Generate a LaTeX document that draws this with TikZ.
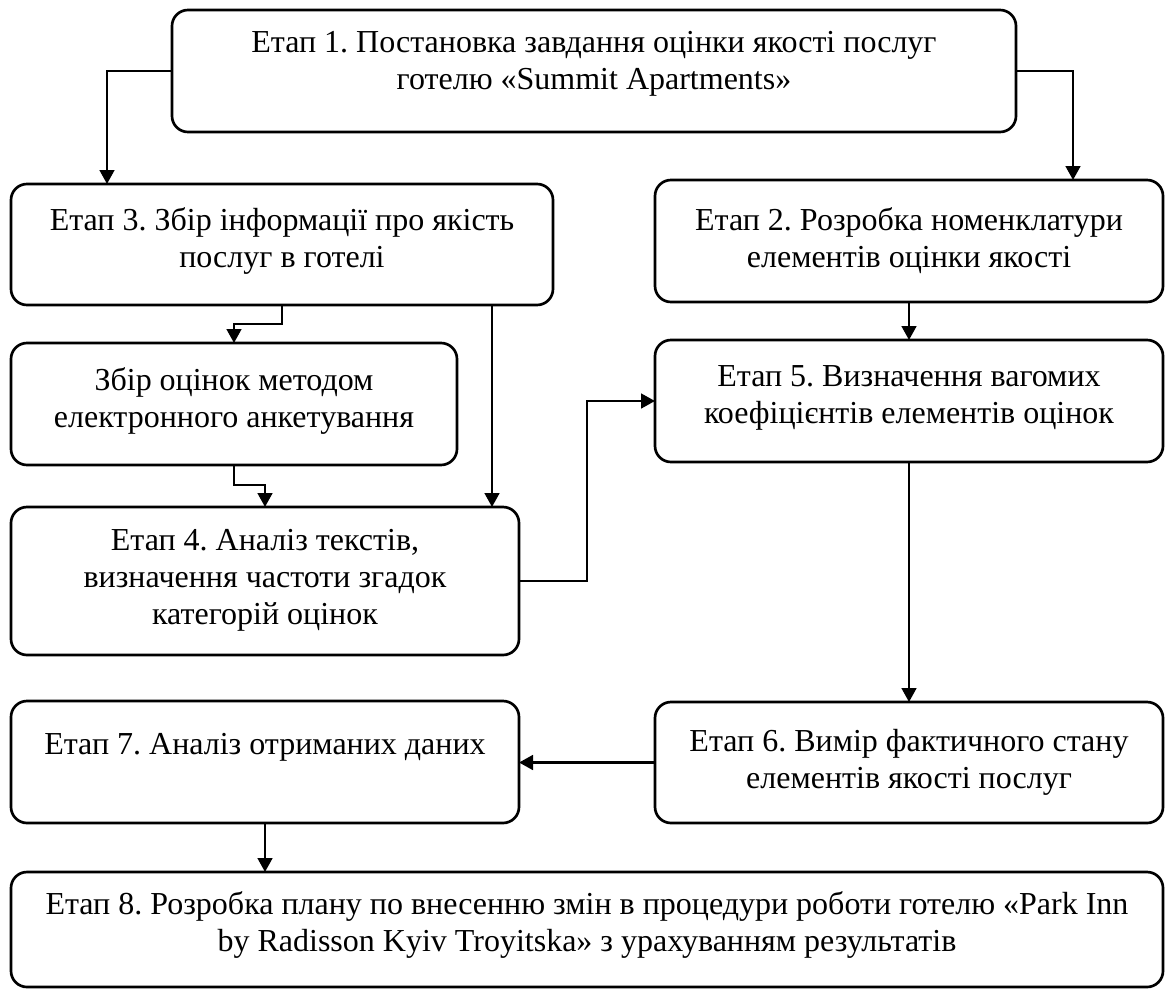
\documentclass[tikz,border=0pt]{standalone}
\usepackage{fontspec}
\setmainfont{Liberation Serif}
\usetikzlibrary{arrows.meta,calc}
\begin{document}
\frenchspacing
\begin{tikzpicture}[x=0.75pt,y=-0.75pt,
  box/.style={draw,line width=2pt,rounded corners=12pt,inner sep=0pt,outer sep=0pt},
  txt/.style={align=center,inner sep=0pt,font=\fontsize{24}{27.8}\selectfont},
  arr/.style={line width=2pt,-{Triangle[length=10.5pt,width=11pt]}}]
\useasboundingbox (0,0) rectangle (1166,989);
% boxes
\node[box,minimum width=844*0.75pt,minimum height=122*0.75pt] (b1) at (594,71) {};
\node[box,minimum width=542*0.75pt,minimum height=121*0.75pt] (b3) at (282,244.5) {};
\node[box,minimum width=508*0.75pt,minimum height=122*0.75pt] (b2) at (909,241) {};
\node[box,minimum width=446*0.75pt,minimum height=122*0.75pt] (bz) at (234,404) {};
\node[box,minimum width=508*0.75pt,minimum height=122*0.75pt] (b5) at (909,401) {};
\node[box,minimum width=508*0.75pt,minimum height=148*0.75pt] (b4) at (265,581) {};
\node[box,minimum width=508*0.75pt,minimum height=122*0.75pt] (b7) at (265,762) {};
\node[box,minimum width=508*0.75pt,minimum height=121*0.75pt] (b6) at (909,762.5) {};
\node[box,minimum width=1152*0.75pt,minimum height=115*0.75pt] (b8) at (587,929.5) {};
% texts
\node[txt] (t1) at (594,64) {Етап 1. Постановка завдання оцінки якості послуг\\готелю «Summit Apartments»};
\node[txt] (t3) at (282,241) {Етап 3. Збір інформації про якість\\послуг в готелі};
\node[txt] (t2) at (909,241) {Етап 2. Розробка номенклатури\\елементів оцінки якості};
\node[txt] (tz) at (234,401) {Збір оцінок методом\\електронного анкетування};
\node[txt] (t5) at (909,398) {Етап 5. Визначення вагомих\\коефіцієнтів елементів оцінок};
\node[txt] (t4) at (265,580) {Етап 4. Аналіз текстів,\\визначення частоти згадок\\категорій оцінок};
\node[txt] (t7) at (265,747) {Етап 7. Аналіз отриманих даних};
\node[txt] (t6) at (909,762) {Етап 6. Вимір фактичного стану\\елементів якості послуг};
\node[txt] (t8) at (587,925) {Етап 8. Розробка плану по внесенню змін в процедури роботи готелю «Park Inn\\by Radisson Kyiv Troyitska» з урахуванням результатів};
% connectors
\coordinate (c13) at ($(b3.north west)+(96,0)$);
\draw[arr] (b1.west) -| (c13);
\coordinate (c12) at ($(b2.north west)+(418,0)$);
\draw[arr] (b1.east) -| (c12);
\draw[arr] (b3.south) -- ++(0,19) -| (bz.north);
\coordinate (c34) at ($(b3.south west)+(481,0)$);
\draw[arr] (c34) -- (c34 |- b4.north);
\draw[arr] (bz.south) -- ++(0,20) -| (b4.north);
\draw[arr] (b4.east) -- ++(68,0) |- (b5.west);
\draw[arr] (b2.south) -- (b5.north);
\draw[arr] (b5.south) -- (b6.north);
\draw[arr] (b6.west) -- (b6.west -| b7.east);
\draw[arr] (b7.south) -- (b7.south |- b8.north);
\end{tikzpicture}
\end{document}
